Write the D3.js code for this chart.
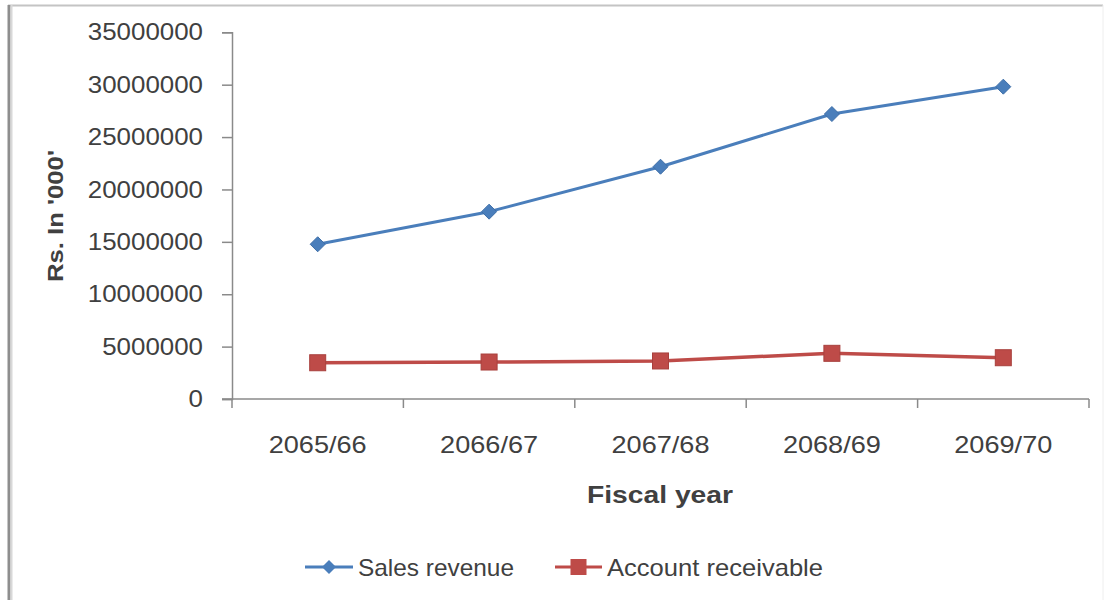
<!DOCTYPE html>
<html>
<head>
<meta charset="utf-8">
<script src="https://cdn.jsdelivr.net/npm/d3@7"></script>
<style>
  html, body { margin: 0; padding: 0; background: #ffffff; }
  svg { display: block; font-family: "Liberation Sans", Arial, sans-serif; }
</style>
</head>
<body>
<svg id="chart" width="1108" height="600"></svg>
<script>
// Fiscal years and the two series (Rs. in '000')
const years = ["2065/66", "2066/67", "2067/68", "2068/69", "2069/70"];
const salesRevenue = [14770000, 17880000, 22170000, 27200000, 29810000];
const accountReceivable = [3460000, 3530000, 3630000, 4360000, 3940000];
const yTicks = [0, 5000000, 10000000, 15000000, 20000000, 25000000, 30000000, 35000000];

const seriesNames = ["Sales revenue", "Account receivable"];
const seriesColors = ["#4a7ebb", "#be4b48"];

const svg = d3.select("#chart");
const W = 1108, H = 600;
const plot = { left: 232, right: 1089, top: 32.3, bottom: 399 };
const textColor = "#404040";

// chart frame
svg.append("rect").attr("x", 0).attr("y", 0).attr("width", W).attr("height", H).attr("fill", "#fff");
svg.append("line").attr("x1", 8).attr("x2", 1103).attr("y1", 5.5).attr("y2", 5.5)
  .attr("stroke", "#c4c4c4").attr("stroke-width", 2);
svg.append("line").attr("x1", 1103).attr("x2", 1103).attr("y1", 5).attr("y2", H)
  .attr("stroke", "#eeeeee").attr("stroke-width", 1);
svg.append("line").attr("x1", 9).attr("x2", 9).attr("y1", 5).attr("y2", H)
  .attr("stroke", "#8e8e8e").attr("stroke-width", 3);
svg.append("line").attr("x1", 11.5).attr("x2", 11.5).attr("y1", 5).attr("y2", H)
  .attr("stroke", "#d8d8d8").attr("stroke-width", 2);

const x = d3.scaleBand().domain(years).range([plot.left, plot.right]).padding(0);
const y = d3.scaleLinear().domain([0, 35000000]).range([plot.bottom, plot.top]);
const cx = d => x(d) + x.bandwidth() / 2;

// y axis
const yAxis = svg.append("g").attr("transform", `translate(${plot.left},0)`)
  .call(d3.axisLeft(y).tickValues(yTicks).tickSize(10).tickPadding(19).tickFormat(d3.format("d")));
yAxis.select(".domain").attr("stroke", "#8a8a8a").attr("stroke-width", 1.5);
yAxis.selectAll(".tick line").attr("stroke", "#8a8a8a").attr("stroke-width", 1.5);
yAxis.selectAll(".tick text").attr("fill", textColor).attr("font-size", 24)
  .attr("font-family", "'Liberation Sans', Arial, sans-serif")
  .attr("textLength", function () { return this.textContent.length * 14.4; })
  .attr("lengthAdjust", "spacingAndGlyphs");

// x axis: ticks on category boundaries
const xAxisG = svg.append("g").attr("transform", `translate(0,${plot.bottom})`);
xAxisG.append("line").attr("x1", plot.left - 10).attr("x2", plot.right).attr("y1", 0).attr("y2", 0)
  .attr("stroke", "#8a8a8a").attr("stroke-width", 1.5);
const bounds = years.map(d => x(d)).concat([plot.right]);
xAxisG.selectAll(".xtick").data(bounds).join("line").attr("class", "xtick")
  .attr("x1", d => d).attr("x2", d => d).attr("y1", 0).attr("y2", 9)
  .attr("stroke", "#8a8a8a").attr("stroke-width", 1.5);
xAxisG.selectAll(".xlabel").data(years).join("text").attr("class", "xlabel")
  .attr("x", d => cx(d)).attr("y", 54).attr("text-anchor", "middle")
  .attr("font-size", 24).attr("fill", textColor)
  .attr("textLength", 98).attr("lengthAdjust", "spacingAndGlyphs").text(d => d);

// axis titles
svg.append("text").attr("x", 660).attr("y", 503).attr("text-anchor", "middle")
  .attr("font-size", 24).attr("font-weight", "bold").attr("fill", textColor)
  .attr("textLength", 146).attr("lengthAdjust", "spacingAndGlyphs").text("Fiscal year");
svg.append("text").attr("transform", "translate(63,216) rotate(-90)").attr("text-anchor", "middle")
  .attr("font-size", 22).attr("font-weight", "bold").attr("fill", textColor)
  .attr("textLength", 132).attr("lengthAdjust", "spacingAndGlyphs").text("Rs. In '000'");

// lines
const line = d3.line().x((d, i) => cx(years[i])).y(d => y(d));
const allSeries = [salesRevenue, accountReceivable];
allSeries.forEach((vals, k) => {
  svg.append("path").datum(vals).attr("d", line).attr("fill", "none")
    .attr("stroke", seriesColors[k]).attr("stroke-width", k === 0 ? 3 : 3.5)
    .attr("stroke-linejoin", "round");
});

// markers
const diamond = (s) => `M0,${-s}L${s},0L0,${s}L${-s},0Z`;
svg.selectAll(".dmark").data(salesRevenue).join("path").attr("class", "dmark")
  .attr("transform", (d, i) => `translate(${cx(years[i])},${y(d)})`)
  .attr("d", diamond(7.5)).attr("fill", seriesColors[0]).attr("stroke", "#3d6ea8").attr("stroke-width", 1);
svg.selectAll(".smark").data(accountReceivable).join("rect").attr("class", "smark")
  .attr("x", (d, i) => cx(years[i]) - 8).attr("y", d => y(d) - 8)
  .attr("width", 16).attr("height", 16)
  .attr("fill", seriesColors[1]).attr("stroke", "#a8403d").attr("stroke-width", 1);

// legend
const legendY = 567;
const legend = [
  { x0: 305, x1: 353, tx: 358, tl: 156 },
  { x0: 555, x1: 602, tx: 607, tl: 216 }
];
legend.forEach((L, k) => {
  const g = svg.append("g");
  g.append("line").attr("x1", L.x0).attr("x2", L.x1).attr("y1", legendY).attr("y2", legendY)
    .attr("stroke", seriesColors[k]).attr("stroke-width", 3);
  const mx = (L.x0 + L.x1) / 2;
  if (k === 0) {
    g.append("path").attr("transform", `translate(${mx},${legendY})`).attr("d", diamond(7))
      .attr("fill", seriesColors[0]);
  } else {
    g.append("rect").attr("x", mx - 8).attr("y", legendY - 8).attr("width", 16).attr("height", 16)
      .attr("fill", seriesColors[1]);
  }
  g.append("text").attr("x", L.tx).attr("y", legendY + 8.5).attr("font-size", 24)
    .attr("fill", textColor).attr("textLength", L.tl).attr("lengthAdjust", "spacingAndGlyphs")
    .text(seriesNames[k]);
});
</script>
</body>
</html>
